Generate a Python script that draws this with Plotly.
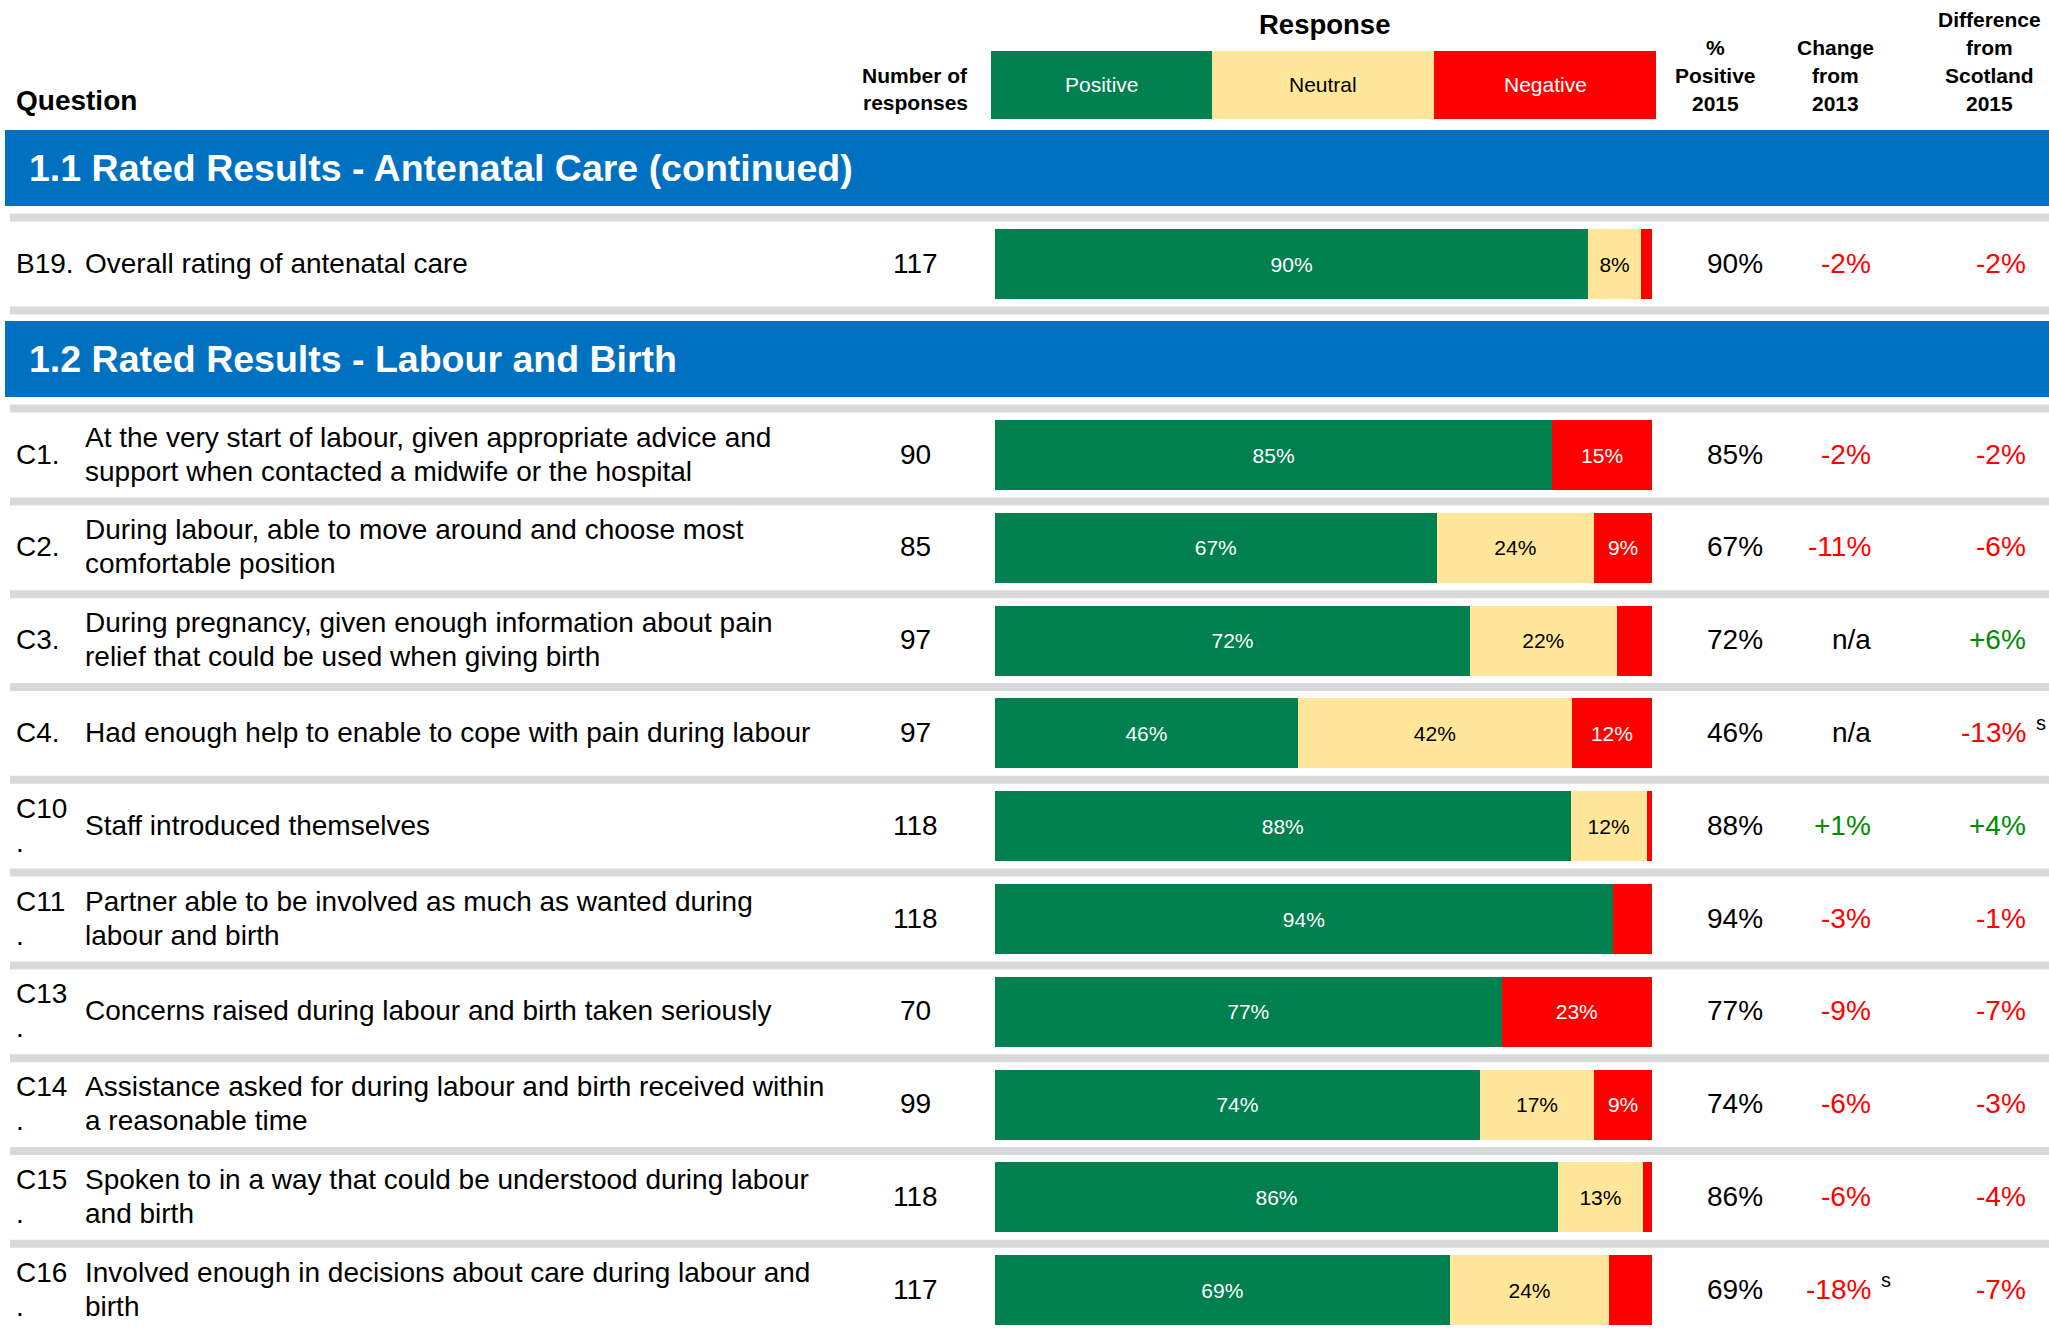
import plotly.graph_objects as go

W, H = 2049, 1333
FONT = "Liberation Sans, Arial, Helvetica, sans-serif"

# ---------------- data ----------------
question_ids = ["B19.", "C1.", "C2.", "C3.", "C4.", "C10\n.", "C11\n.", "C13\n.",
                "C14\n.", "C15\n.", "C16\n."]
question_texts = [
    "Overall rating of antenatal care",
    "At the very start of labour, given appropriate advice and\nsupport when contacted a midwife or the hospital",
    "During labour, able to move around and choose most\ncomfortable position",
    "During pregnancy, given enough information about pain\nrelief that could be used when giving birth",
    "Had enough help to enable to cope with pain during labour",
    "Staff introduced themselves",
    "Partner able to be involved as much as wanted during\nlabour and birth",
    "Concerns raised during labour and birth taken seriously",
    "Assistance asked for during labour and birth received within\na reasonable time",
    "Spoken to in a way that could be understood during labour\nand birth",
    "Involved enough in decisions about care during labour and\nbirth",
]
question_section = [1, 2, 2, 2, 2, 2, 2, 2, 2, 2, 2]
n_responses = [117, 90, 85, 97, 97, 118, 118, 70, 99, 118, 117]
positive = [90.3, 84.8, 67.2, 72.3, 46.1, 87.6, 94.0, 77.1, 73.8, 85.7, 69.2]
neutral = [8.0, 0.0, 24.0, 22.3, 41.7, 11.6, 0.0, 0.0, 17.4, 12.9, 24.3]
negative = [1.7, 15.2, 8.8, 5.4, 12.2, 0.8, 6.0, 22.9, 8.8, 1.4, 6.5]
pct_positive_2015 = [90, 85, 67, 72, 46, 88, 94, 77, 74, 86, 69]
change_from_2013 = ["-2%", "-2%", "-11%", "n/a", "n/a", "+1%", "-3%", "-9%", "-6%", "-6%", "-18%"]
change_sig = ["", "", "", "", "", "", "", "", "", "", "s"]
diff_from_scotland = ["-2%", "-2%", "-6%", "+6%", "-13%", "+4%", "-1%", "-7%", "-3%", "-4%", "-7%"]
diff_sig = ["", "", "", "", "s", "", "", "", "", "", ""]
section_titles = {1: "1.1 Rated Results - Antenatal Care (continued)",
                  2: "1.2 Rated Results - Labour and Birth"}
response_names = ["Positive", "Neutral", "Negative"]
response_values = [positive, neutral, negative]

# ---------------- styling / geometry ----------------
C_GREEN, C_YELLOW, C_RED = "#00804F", "#FFE699", "#FF0000"
C_BLUE, C_GREY = "#0070C0", "#D9D9D9"
C_POS_TXT, C_NEG_TXT = "#008A00", "#FF0000"
resp_colors = [C_GREEN, C_YELLOW, C_RED]
resp_text_colors = ["white", "black", "white"]

BAR_X0, BAR_X1 = 995, 1652
PITCH = 92.8
BAR_H = 70
SEC_ROW0 = {1: 264.0, 2: 455.0}          # px centre of first row in each section
SEC_DOM = {1: (207.0, 319.0), 2: (398.0, 1333.0)}
SEC_BAND = {1: (130.0, 206.0), 2: (321.0, 397.0)}
LINE_SP = 34


def xp(px):
    return px / W


def yp(py):
    return 1 - py / H


fig = go.Figure()

sections = [1, 2]
for s in sections:
    idx = [i for i, q in enumerate(question_section) if q == s]
    cats = [question_ids[i].split("\n")[0] for i in idx]
    yname = "y" if s == 1 else "y2"
    xname = "x" if s == 1 else "x2"
    for name, vals, col, tcol in zip(response_names, response_values, resp_colors, resp_text_colors):
        v = [vals[i] for i in idx]
        txt = [f"{round(a)}%" if a >= 7.5 else "" for a in v]
        fig.add_trace(go.Bar(
            y=cats, x=v, orientation="h", name=name,
            marker=dict(color=col, line=dict(width=0)),
            text=txt, textposition="inside", insidetextanchor="middle",
            textangle=0, constraintext="none",
            textfont=dict(family=FONT, size=21, color=tcol),
            xaxis=xname, yaxis=yname, showlegend=False, hoverinfo="skip",
        ))

layout_axes = {}
for s in sections:
    top, bot = SEC_DOM[s]
    r0 = SEC_ROW0[s]
    yk = "yaxis" if s == 1 else "yaxis2"
    xk = "xaxis" if s == 1 else "xaxis2"
    layout_axes[yk] = dict(domain=[yp(bot), yp(top)], type="category",
                           range=[(bot - r0) / PITCH, (top - r0) / PITCH],
                           visible=False, fixedrange=True,
                           anchor="x" if s == 1 else "x2")
    layout_axes[xk] = dict(domain=[xp(BAR_X0), xp(BAR_X1)], range=[0, 100],
                           visible=False, fixedrange=True,
                           anchor="y" if s == 1 else "y2")

shapes = []
annotations = []

# section bands, grey separators and row texts
for s in sections:
    idx = [i for i, q in enumerate(question_section) if q == s]
    b0, b1 = SEC_BAND[s]
    shapes.append(dict(type="rect", xref="paper", yref="paper", x0=xp(5), x1=1,
                       y0=yp(b1), y1=yp(b0), fillcolor=C_BLUE, line=dict(width=0), layer="below"))
    annotations.append(dict(text=f"<b>{section_titles[s]}</b>", xref="paper", yref="paper",
                            x=xp(27), y=yp((b0 + b1) / 2), xanchor="left", yanchor="middle",
                            showarrow=False, font=dict(family=FONT, size=37.5, color="white")))
    r0 = SEC_ROW0[s]
    n = len(idx)
    for k in range(n + (1 if s == 1 else 0)):
        py = r0 + (k - 0.5) * PITCH
        shapes.append(dict(type="rect", xref="paper", yref="paper", x0=xp(10), x1=1,
                           y0=yp(py + 4), y1=yp(py - 4), fillcolor=C_GREY,
                           line=dict(width=0), layer="below"))
    yref = "y" if s == 1 else "y2"
    for k, i in enumerate(idx):
        def add(text, px, anchor, shift=1, size=28, color="black"):
            annotations.append(dict(text=text, xref="paper", yref=yref, x=xp(px), y=k,
                                    xanchor=anchor, yanchor="middle", yshift=shift,
                                    showarrow=False, font=dict(family=FONT, size=size, color=color)))
        for lines, px in ((question_ids[i].split("\n"), 14), (question_texts[i].split("\n"), 83)):
            m = len(lines)
            for j, ln in enumerate(lines):
                add(ln, px, "left", shift=1 - (j - (m - 1) / 2) * LINE_SP)
        add(str(n_responses[i]), 915, "center")
        add(f"{pct_positive_2015[i]}%", 1765, "right")
        for val, sig, px in ((change_from_2013[i], change_sig[i], 1873),
                             (diff_from_scotland[i], diff_sig[i], 2028)):
            col = C_NEG_TXT if val.startswith("-") else (C_POS_TXT if val.startswith("+") else "black")
            add(val, px, "right", color=col)
            if sig:
                add(sig, px + 6, "left", shift=10, size=20)

# header
def hdr(text, px, py, anchor="center", size=21, color="black", bold=True):
    t = f"<b>{text}</b>" if bold else text
    annotations.append(dict(text=t, xref="paper", yref="paper", x=xp(px), y=yp(py),
                            xanchor=anchor, yanchor="middle", showarrow=False,
                            font=dict(family=FONT, size=size, color=color)))

hdr("Question", 14, 101, anchor="left", size=28)
hdr("Number of", 915, 75)
hdr("responses", 915, 103)
hdr("Response", 1324, 25, size=27.5)
leg_x = [991, 1212, 1434, 1656]
for j, name in enumerate(response_names):
    shapes.append(dict(type="rect", xref="paper", yref="paper", x0=xp(leg_x[j]), x1=xp(leg_x[j + 1]),
                       y0=yp(119), y1=yp(51), fillcolor=resp_colors[j], line=dict(width=0)))
    hdr(name, (leg_x[j] + leg_x[j + 1]) / 2, 85, color=resp_text_colors[j], bold=False)
for j, ln in enumerate(["%", "Positive", "2015"]):
    hdr(ln, 1715, 47.5 + 28 * j)
for j, ln in enumerate(["Change", "from", "2013"]):
    hdr(ln, 1835, 47.5 + 28 * j)
for j, ln in enumerate(["Difference", "from", "Scotland", "2015"]):
    hdr(ln, 1989, 19.5 + 28 * j)

fig.update_layout(
    width=W, height=H, margin=dict(l=0, r=0, t=0, b=0),
    paper_bgcolor="white", plot_bgcolor="rgba(0,0,0,0)",
    barmode="stack", bargap=1 - BAR_H / PITCH, bargroupgap=0,
    shapes=shapes, annotations=annotations, showlegend=False,
    font=dict(family=FONT),
    **layout_axes,
)

fig.write_html(
    "out.html",
    config={"displayModeBar": False},
    post_script="document.body.style.margin='0';document.body.style.overflow='hidden';",
)
